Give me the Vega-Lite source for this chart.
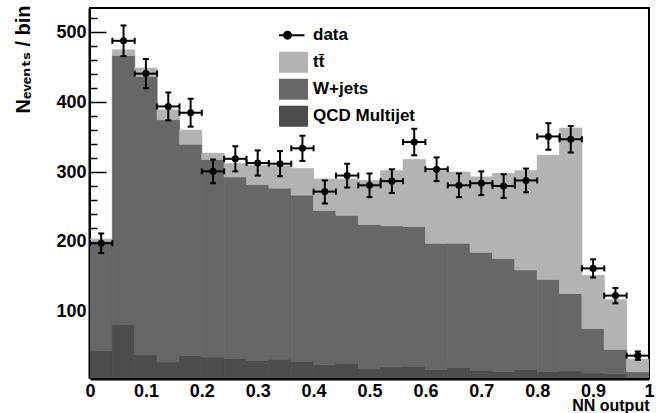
{
  "$schema": "https://vega.github.io/schema/vega-lite/v6.json",
  "width": 559,
  "height": 370,
  "autosize": {"type": "none"},
  "padding": {"left": 90, "top": 8, "right": 13, "bottom": 35},
  "background": "white",
  "config": {
    "view": {"stroke": "black", "strokeWidth": 2},
    "font": "Liberation Sans"
  },
  "datasets": {
    "hist": [
      {"x0": 0, "x1": 0.04, "process": "QCD Multijet", "n": 44},
      {"x0": 0, "x1": 0.04, "process": "W+jets", "n": 157},
      {"x0": 0, "x1": 0.04, "process": "tt̄", "n": 3},
      {"x0": 0.04, "x1": 0.08, "process": "QCD Multijet", "n": 82},
      {"x0": 0.04, "x1": 0.08, "process": "W+jets", "n": 385},
      {"x0": 0.04, "x1": 0.08, "process": "tt̄", "n": 8},
      {"x0": 0.08, "x1": 0.12, "process": "QCD Multijet", "n": 38},
      {"x0": 0.08, "x1": 0.12, "process": "W+jets", "n": 399},
      {"x0": 0.08, "x1": 0.12, "process": "tt̄", "n": 12},
      {"x0": 0.12, "x1": 0.16, "process": "QCD Multijet", "n": 28},
      {"x0": 0.12, "x1": 0.16, "process": "W+jets", "n": 347},
      {"x0": 0.12, "x1": 0.16, "process": "tt̄", "n": 14},
      {"x0": 0.16, "x1": 0.2, "process": "QCD Multijet", "n": 37},
      {"x0": 0.16, "x1": 0.2, "process": "W+jets", "n": 303},
      {"x0": 0.16, "x1": 0.2, "process": "tt̄", "n": 20},
      {"x0": 0.2, "x1": 0.24, "process": "QCD Multijet", "n": 35},
      {"x0": 0.2, "x1": 0.24, "process": "W+jets", "n": 283},
      {"x0": 0.2, "x1": 0.24, "process": "tt̄", "n": 9},
      {"x0": 0.24, "x1": 0.28, "process": "QCD Multijet", "n": 33},
      {"x0": 0.24, "x1": 0.28, "process": "W+jets", "n": 260},
      {"x0": 0.24, "x1": 0.28, "process": "tt̄", "n": 19},
      {"x0": 0.28, "x1": 0.32, "process": "QCD Multijet", "n": 30},
      {"x0": 0.28, "x1": 0.32, "process": "W+jets", "n": 252},
      {"x0": 0.28, "x1": 0.32, "process": "tt̄", "n": 28},
      {"x0": 0.32, "x1": 0.36, "process": "QCD Multijet", "n": 32},
      {"x0": 0.32, "x1": 0.36, "process": "W+jets", "n": 245},
      {"x0": 0.32, "x1": 0.36, "process": "tt̄", "n": 32},
      {"x0": 0.36, "x1": 0.4, "process": "QCD Multijet", "n": 29},
      {"x0": 0.36, "x1": 0.4, "process": "W+jets", "n": 238},
      {"x0": 0.36, "x1": 0.4, "process": "tt̄", "n": 38},
      {"x0": 0.4, "x1": 0.44, "process": "QCD Multijet", "n": 24},
      {"x0": 0.4, "x1": 0.44, "process": "W+jets", "n": 221},
      {"x0": 0.4, "x1": 0.44, "process": "tt̄", "n": 45},
      {"x0": 0.44, "x1": 0.48, "process": "QCD Multijet", "n": 26},
      {"x0": 0.44, "x1": 0.48, "process": "W+jets", "n": 212},
      {"x0": 0.44, "x1": 0.48, "process": "tt̄", "n": 52},
      {"x0": 0.48, "x1": 0.52, "process": "QCD Multijet", "n": 18},
      {"x0": 0.48, "x1": 0.52, "process": "W+jets", "n": 207},
      {"x0": 0.48, "x1": 0.52, "process": "tt̄", "n": 63},
      {"x0": 0.52, "x1": 0.56, "process": "QCD Multijet", "n": 21},
      {"x0": 0.52, "x1": 0.56, "process": "W+jets", "n": 202},
      {"x0": 0.52, "x1": 0.56, "process": "tt̄", "n": 79},
      {"x0": 0.56, "x1": 0.6, "process": "QCD Multijet", "n": 22},
      {"x0": 0.56, "x1": 0.6, "process": "W+jets", "n": 200},
      {"x0": 0.56, "x1": 0.6, "process": "tt̄", "n": 96},
      {"x0": 0.6, "x1": 0.64, "process": "QCD Multijet", "n": 17},
      {"x0": 0.6, "x1": 0.64, "process": "W+jets", "n": 181},
      {"x0": 0.6, "x1": 0.64, "process": "tt̄", "n": 103},
      {"x0": 0.64, "x1": 0.68, "process": "QCD Multijet", "n": 20},
      {"x0": 0.64, "x1": 0.68, "process": "W+jets", "n": 178},
      {"x0": 0.64, "x1": 0.68, "process": "tt̄", "n": 102},
      {"x0": 0.68, "x1": 0.72, "process": "QCD Multijet", "n": 16},
      {"x0": 0.68, "x1": 0.72, "process": "W+jets", "n": 169},
      {"x0": 0.68, "x1": 0.72, "process": "tt̄", "n": 108},
      {"x0": 0.72, "x1": 0.76, "process": "QCD Multijet", "n": 14},
      {"x0": 0.72, "x1": 0.76, "process": "W+jets", "n": 162},
      {"x0": 0.72, "x1": 0.76, "process": "tt̄", "n": 122},
      {"x0": 0.76, "x1": 0.8, "process": "QCD Multijet", "n": 17},
      {"x0": 0.76, "x1": 0.8, "process": "W+jets", "n": 143},
      {"x0": 0.76, "x1": 0.8, "process": "tt̄", "n": 142},
      {"x0": 0.8, "x1": 0.84, "process": "QCD Multijet", "n": 14},
      {"x0": 0.8, "x1": 0.84, "process": "W+jets", "n": 132},
      {"x0": 0.8, "x1": 0.84, "process": "tt̄", "n": 178},
      {"x0": 0.84, "x1": 0.88, "process": "QCD Multijet", "n": 15},
      {"x0": 0.84, "x1": 0.88, "process": "W+jets", "n": 111},
      {"x0": 0.84, "x1": 0.88, "process": "tt̄", "n": 237},
      {"x0": 0.88, "x1": 0.92, "process": "QCD Multijet", "n": 12},
      {"x0": 0.88, "x1": 0.92, "process": "W+jets", "n": 64},
      {"x0": 0.88, "x1": 0.92, "process": "tt̄", "n": 76},
      {"x0": 0.92, "x1": 0.96, "process": "QCD Multijet", "n": 11},
      {"x0": 0.92, "x1": 0.96, "process": "W+jets", "n": 35},
      {"x0": 0.92, "x1": 0.96, "process": "tt̄", "n": 71},
      {"x0": 0.96, "x1": 1, "process": "QCD Multijet", "n": 5},
      {"x0": 0.96, "x1": 1, "process": "W+jets", "n": 9},
      {"x0": 0.96, "x1": 1, "process": "tt̄", "n": 18}
    ],
    "pts": [
      {"x0": 0, "x1": 0.04, "xc": 0.02, "n": 198, "lo": 184, "hi": 212},
      {"x0": 0.04, "x1": 0.08, "xc": 0.06, "n": 488, "lo": 466, "hi": 510},
      {"x0": 0.08, "x1": 0.12, "xc": 0.1, "n": 441, "lo": 420, "hi": 462},
      {"x0": 0.12, "x1": 0.16, "xc": 0.14, "n": 394, "lo": 374, "hi": 414},
      {"x0": 0.16, "x1": 0.2, "xc": 0.18, "n": 385, "lo": 365, "hi": 405},
      {"x0": 0.2, "x1": 0.24, "xc": 0.22, "n": 301, "lo": 284, "hi": 318},
      {"x0": 0.24, "x1": 0.28, "xc": 0.26, "n": 319, "lo": 301, "hi": 337},
      {"x0": 0.28, "x1": 0.32, "xc": 0.3, "n": 313, "lo": 295, "hi": 331},
      {"x0": 0.32, "x1": 0.36, "xc": 0.34, "n": 312, "lo": 294, "hi": 330},
      {"x0": 0.36, "x1": 0.4, "xc": 0.38, "n": 334, "lo": 316, "hi": 352},
      {"x0": 0.4, "x1": 0.44, "xc": 0.42, "n": 272, "lo": 255, "hi": 288},
      {"x0": 0.44, "x1": 0.48, "xc": 0.46, "n": 295, "lo": 278, "hi": 312},
      {"x0": 0.48, "x1": 0.52, "xc": 0.5, "n": 281, "lo": 264, "hi": 298},
      {"x0": 0.52, "x1": 0.56, "xc": 0.54, "n": 287, "lo": 270, "hi": 304},
      {"x0": 0.56, "x1": 0.6, "xc": 0.58, "n": 343, "lo": 324, "hi": 362},
      {"x0": 0.6, "x1": 0.64, "xc": 0.62, "n": 304, "lo": 287, "hi": 321},
      {"x0": 0.64, "x1": 0.68, "xc": 0.66, "n": 281, "lo": 264, "hi": 298},
      {"x0": 0.68, "x1": 0.72, "xc": 0.7, "n": 284, "lo": 267, "hi": 301},
      {"x0": 0.72, "x1": 0.76, "xc": 0.74, "n": 280, "lo": 263, "hi": 297},
      {"x0": 0.76, "x1": 0.8, "xc": 0.78, "n": 288, "lo": 271, "hi": 305},
      {"x0": 0.8, "x1": 0.84, "xc": 0.82, "n": 351, "lo": 332, "hi": 370},
      {"x0": 0.84, "x1": 0.88, "xc": 0.86, "n": 347, "lo": 328, "hi": 366},
      {"x0": 0.88, "x1": 0.92, "xc": 0.9, "n": 162, "lo": 149, "hi": 175},
      {"x0": 0.92, "x1": 0.96, "xc": 0.94, "n": 123, "lo": 112, "hi": 134},
      {"x0": 0.96, "x1": 1, "xc": 0.98, "n": 37, "lo": 31, "hi": 43}
    ]
  },
  "resolve": {"axis": {"y": "independent"}},
  "layer": [
    {
      "layer": [
        {
          "data": {"name": "hist"},
          "transform": [
            {"stack": "n", "groupby": ["x0"], "sort": [{"field": "process", "order": "ascending"}], "as": ["y0", "y1"]}
          ],
          "mark": {"type": "rect", "clip": true, "strokeWidth": 0.8},
          "encoding": {
            "x": {
              "field": "x0", "type": "quantitative",
              "scale": {"domain": [0, 1], "nice": false, "zero": false},
              "axis": {
                "values": [0, 0.1, 0.2, 0.3, 0.4, 0.5, 0.6, 0.7, 0.8, 0.9, 1],
                "format": "~g",
                "ticks": false,
                "grid": false,
                "offset": 1,
                "domainColor": "black",
                "domainWidth": 2,
                "labelFlush": false,
                "labelOverlap": false,
                "labelBound": false,
                "labelPadding": 3,
                "labelFont": "Liberation Sans",
                "labelFontSize": 18,
                "labelFontWeight": "bold",
                "labelColor": "black",
                "title": "NN output",
                "titleFont": "Liberation Sans",
                "titleFontSize": 16,
                "titleFontWeight": "bold",
                "titleColor": "black",
                "titleAnchor": "end",
                "titleAlign": "right",
                "titleBaseline": "alphabetic",
                "titleX": 559,
                "titleY": 31
              }
            },
            "x2": {"field": "x1"},
            "y": {
              "field": "y0", "type": "quantitative",
              "scale": {"domain": [5, 535], "nice": false, "zero": false},
              "axis": {
                "values": [100, 200, 300, 400, 500],
                "tickSize": -17,
                "tickColor": "black",
                "tickWidth": 1.5,
                "grid": false,
                "offset": 1,
                "domainColor": "black",
                "domainWidth": 2,
                "labelOverlap": false,
                "labelBound": false,
                "labelFlush": false,
                "labelPadding": 20,
                "labelFont": "Liberation Sans",
                "labelFontSize": 18,
                "labelFontWeight": "bold",
                "labelColor": "black",
                "title": "Nₑᵥₑₙₜₛ / bin",
                "titleFont": "Liberation Sans, DejaVu Sans",
                "titleFontSize": 20,
                "titleFontWeight": "bold",
                "titleColor": "black",
                "titleAngle": -90,
                "titleAnchor": "end",
                "titleAlign": "right",
                "titleBaseline": "alphabetic",
                "titleX": -60,
                "titleY": -3
              }
            },
            "y2": {"field": "y1"},
            "fill": {
              "field": "process", "type": "nominal",
              "scale": {"domain": ["data", "tt̄", "W+jets", "QCD Multijet"], "range": ["black", "#b3b3b3", "#676767", "#4d4d4d"]},
              "legend": {
                "title": null,
                "orient": "none",
                "legendX": 189,
                "legendY": 14,
                "symbolSize": 100,
                "symbolStrokeWidth": 2,
                "clipHeight": 26.3,
                "labelFont": "Liberation Sans",
                "labelFontSize": 17,
                "labelFontWeight": "bold",
                "labelColor": "black",
                "labelOffset": 17,
                "rowPadding": 0,
                "encode": {
                  "symbols": {
                    "update": {
                      "shape": {"signal": "datum.value === 'data' ? 'M-3.4,0H3.4M-0.7,0A0.7,0.7 0 1,0 0.7,0A0.7,0.7 0 1,0 -0.7,0Z' : 'M-3.9,-1.9H3.9V1.9H-3.9Z'"},
                      "stroke": {"signal": "datum.value === 'data' ? 'black' : 'transparent'"},
                      "strokeWidth": {"value": 2},
                      "opacity": {"value": 1},
                      "fillOpacity": {"value": 1}
                    }
                  }
                }
              }
            },
            "stroke": {
              "field": "process", "type": "nominal",
              "scale": {"domain": ["data", "tt̄", "W+jets", "QCD Multijet"], "range": ["black", "#b3b3b3", "#676767", "#4d4d4d"]},
              "legend": null
            }
          }
        },
        {
          "data": {"name": "pts"},
          "mark": {"type": "rule", "strokeWidth": 2, "color": "black"},
          "encoding": {
            "x": {"field": "xc", "type": "quantitative"},
            "y": {"field": "lo", "type": "quantitative"},
            "y2": {"field": "hi"}
          }
        },
        {
          "data": {"name": "pts"},
          "mark": {"type": "rule", "strokeWidth": 2, "color": "black"},
          "encoding": {
            "x": {"field": "x0", "type": "quantitative"},
            "x2": {"field": "x1"},
            "y": {"field": "n", "type": "quantitative"}
          }
        },
        {
          "data": {"name": "pts"},
          "mark": {"type": "tick", "orient": "horizontal", "size": 6, "thickness": 2, "color": "black", "opacity": 1},
          "encoding": {
            "x": {"field": "xc", "type": "quantitative"},
            "y": {"field": "lo", "type": "quantitative"}
          }
        },
        {
          "data": {"name": "pts"},
          "mark": {"type": "tick", "orient": "horizontal", "size": 6, "thickness": 2, "color": "black", "opacity": 1},
          "encoding": {
            "x": {"field": "xc", "type": "quantitative"},
            "y": {"field": "hi", "type": "quantitative"}
          }
        },
        {
          "data": {"name": "pts"},
          "mark": {"type": "tick", "orient": "vertical", "size": 6, "thickness": 2, "color": "black", "opacity": 1},
          "encoding": {
            "x": {"field": "x0", "type": "quantitative"},
            "y": {"field": "n", "type": "quantitative"}
          }
        },
        {
          "data": {"name": "pts"},
          "mark": {"type": "tick", "orient": "vertical", "size": 6, "thickness": 2, "color": "black", "opacity": 1},
          "encoding": {
            "x": {"field": "x1", "type": "quantitative"},
            "y": {"field": "n", "type": "quantitative"}
          }
        },
        {
          "data": {"name": "pts"},
          "mark": {"type": "circle", "size": 50, "color": "black", "opacity": 1},
          "encoding": {
            "x": {"field": "xc", "type": "quantitative"},
            "y": {"field": "n", "type": "quantitative"}
          }
        }
      ]
    },
    {
      "data": {"name": "pts"},
      "mark": {"type": "circle", "opacity": 0},
      "encoding": {
        "x": {"field": "xc", "type": "quantitative"},
        "y": {
          "field": "n", "type": "quantitative",
          "scale": {"domain": [5, 535], "nice": false, "zero": false},
          "axis": {
            "orient": "left",
            "values": [20, 40, 60, 80, 120, 140, 160, 180, 220, 240, 260, 280, 320, 340, 360, 380, 420, 440, 460, 480, 520],
            "tickSize": -8,
            "tickColor": "black",
            "tickWidth": 1.5,
            "offset": 1,
            "labels": false,
            "domain": false,
            "grid": false,
            "title": null
          }
        }
      }
    }
  ]
}
